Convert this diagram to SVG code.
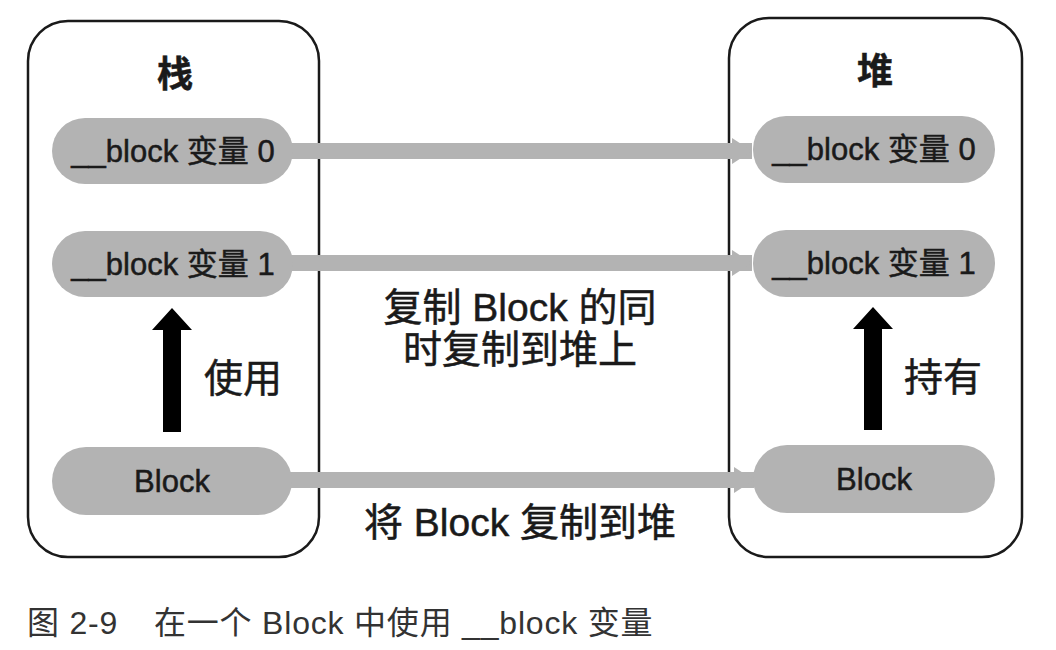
<svg xmlns="http://www.w3.org/2000/svg" width="1056" height="650" viewBox="0 0 1056 650">
<style>
.box{fill:#fff;stroke:#1a1a1a;stroke-width:2.5}
.pill{fill:#b3b3b3}
.t{font-family:"Liberation Sans","Noto Sans CJK SC",sans-serif;fill:#1a1a1a;stroke:#1a1a1a;stroke-width:0.5;text-anchor:middle}
.pt{font-size:31px}
.title{font-size:36px;font-weight:bold}
.lbl{font-size:39px}
.cap{font-family:"Liberation Sans","Noto Sans CJK SC",sans-serif;font-size:32px;letter-spacing:0.8px;fill:#333}
.conn{stroke:#b3b3b3;stroke-width:16;fill:none}
</style>
<defs>
<marker id="ga" viewBox="0 0 20 26" refX="20" refY="13" markerWidth="20" markerHeight="26" markerUnits="userSpaceOnUse" orient="auto">
<path d="M0,0 L20,13 L0,26 Z" fill="#b3b3b3"/>
</marker>
</defs>
<g id="stack">
<rect class="box" x="28" y="21" width="291" height="536" rx="40"/>
<text class="t title" x="175" y="87">栈</text>
</g>
<g id="heap">
<rect class="box" x="729" y="18" width="293" height="539" rx="40"/>
<text class="t title" x="875" y="84">堆</text>
</g>
<g id="connectors">
<line class="conn" x1="290" y1="151" x2="752" y2="151" marker-end="url(#ga)"/>
<line class="conn" x1="290" y1="263" x2="752" y2="263" marker-end="url(#ga)"/>
<line class="conn" x1="290" y1="480" x2="754" y2="480" marker-end="url(#ga)"/>
<path d="M163,432 V330 H152 L172,308 L192,330 H181 V432 Z" fill="#000"/>
<path d="M864,430 V329 H853 L873,307 L893,329 H882 V430 Z" fill="#000"/>
</g>
<g id="s-var0">
<rect class="pill" x="52" y="118" width="241" height="66" rx="33"/>
<text class="t pt" x="173" y="162">__block 变量 0</text>
</g>
<g id="s-var1">
<rect class="pill" x="52" y="231" width="241" height="66" rx="33"/>
<text class="t pt" x="173" y="275">__block 变量 1</text>
</g>
<g id="s-block">
<rect class="pill" x="52" y="447" width="240" height="68" rx="34"/>
<text class="t pt" x="172" y="492">Block</text>
</g>
<g id="h-var0">
<rect class="pill" x="753" y="116" width="242" height="67" rx="33"/>
<text class="t pt" x="874" y="160">__block 变量 0</text>
</g>
<g id="h-var1">
<rect class="pill" x="753" y="230" width="242" height="67" rx="33"/>
<text class="t pt" x="874" y="274">__block 变量 1</text>
</g>
<g id="h-block">
<rect class="pill" x="753" y="445" width="242" height="68" rx="34"/>
<text class="t pt" x="874" y="490">Block</text>
</g>
<g id="labels">
<text class="t lbl" x="243" y="392">使用</text>
<text class="t lbl" x="943" y="391">持有</text>
<text class="t lbl" x="520" y="321">复制 Block 的同</text>
<text class="t lbl" x="520" y="363">时复制到堆上</text>
<text class="t lbl" x="520" y="536">将 Block 复制到堆</text>
</g>
<text class="cap" x="27" y="634">图 2-9<tspan x="154">在一个 Block 中使用 __block 变量</tspan></text>
</svg>
